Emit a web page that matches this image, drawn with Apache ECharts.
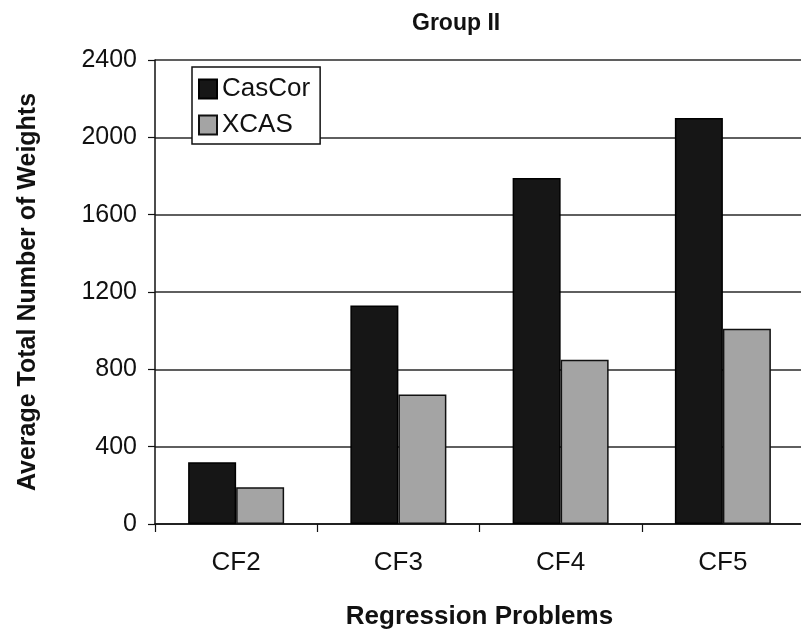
<!DOCTYPE html>
<html>
<head>
<meta charset="utf-8">
<script src="https://cdn.jsdelivr.net/npm/echarts@6/dist/echarts.min.js"></script>
<style>
html,body{margin:0;padding:0;background:#fff;}
#chart{width:801px;height:634px;}
</style>
</head>
<body>
<div id="chart"></div>
<script>
var categories = ['CF2', 'CF3', 'CF4', 'CF5'];
var casCor = [320, 1130, 1790, 2100];
var xcas = [190, 670, 850, 1010];
var yTicks = [0, 400, 800, 1200, 1600, 2000, 2400];

var FONT = '"Liberation Sans", Arial, sans-serif';
var chart = echarts.init(document.getElementById('chart'), null, {renderer: 'canvas'});
chart.setOption({
  backgroundColor: '#ffffff',
  animation: false,
  title: {
    text: 'Group II',
    left: 412,
    top: 12,
    padding: 0,
    textStyle: {fontFamily: FONT, fontSize: 23, fontWeight: 'bold', color: '#111'}
  },
  legend: {
    orient: 'vertical',
    left: 192,
    top: 67,
    padding: [9, 10, 6, 6],
    itemGap: 10,
    itemWidth: 18,
    itemHeight: 19,
    itemTextGap: 6,
    borderColor: '#111',
    borderWidth: 1.5,
    backgroundColor: '#fff',
    icon: 'rect',
    textStyle: {fontFamily: FONT, fontSize: 26, color: '#111'},
    data: ['CasCor', 'XCAS']
  },
  grid: {left: 155, right: -3, top: 60, bottom: 110, containLabel: false, outerBoundsMode: 'none'},
  xAxis: {
    type: 'category',
    data: categories,
    name: 'Regression Problems',
    nameLocation: 'middle',
    nameGap: 80,
    nameTextStyle: {fontFamily: FONT, fontSize: 26, fontWeight: 'bold', color: '#111'},
    axisLine: {lineStyle: {color: '#111', width: 1.5}},
    axisTick: {show: true, length: 8, lineStyle: {color: '#111', width: 1.2}},
    axisLabel: {fontFamily: FONT, fontSize: 26, color: '#111', margin: 26}
  },
  yAxis: {
    type: 'value',
    min: 0,
    max: 2400,
    interval: 400,
    name: 'Average Total Number of Weights',
    nameLocation: 'middle',
    nameRotate: 90,
    nameGap: 114,
    nameTextStyle: {fontFamily: FONT, fontSize: 25, fontWeight: 'bold', color: '#111'},
    axisLine: {show: true, lineStyle: {color: '#111', width: 1.5}},
    axisTick: {show: true, length: 7, lineStyle: {color: '#111', width: 1.2}},
    axisLabel: {fontFamily: FONT, fontSize: 25, color: '#111', margin: 18,
      formatter: function (v) { return yTicks.indexOf(v) >= 0 ? String(v) : ''; }},
    splitLine: {show: true, lineStyle: {color: '#2a2a2a', width: 1.5}}
  },
  series: [
    {
      name: 'CasCor',
      type: 'bar',
      data: casCor,
      barWidth: 48,
      barGap: '0%',
      itemStyle: {color: '#161616', borderColor: '#000', borderWidth: 1.5}
    },
    {
      name: 'XCAS',
      type: 'bar',
      data: xcas,
      barWidth: 48,
      barGap: '0%',
      itemStyle: {color: '#a4a4a4', borderColor: '#111', borderWidth: 1.5}
    }
  ]
});
</script>
</body>
</html>
